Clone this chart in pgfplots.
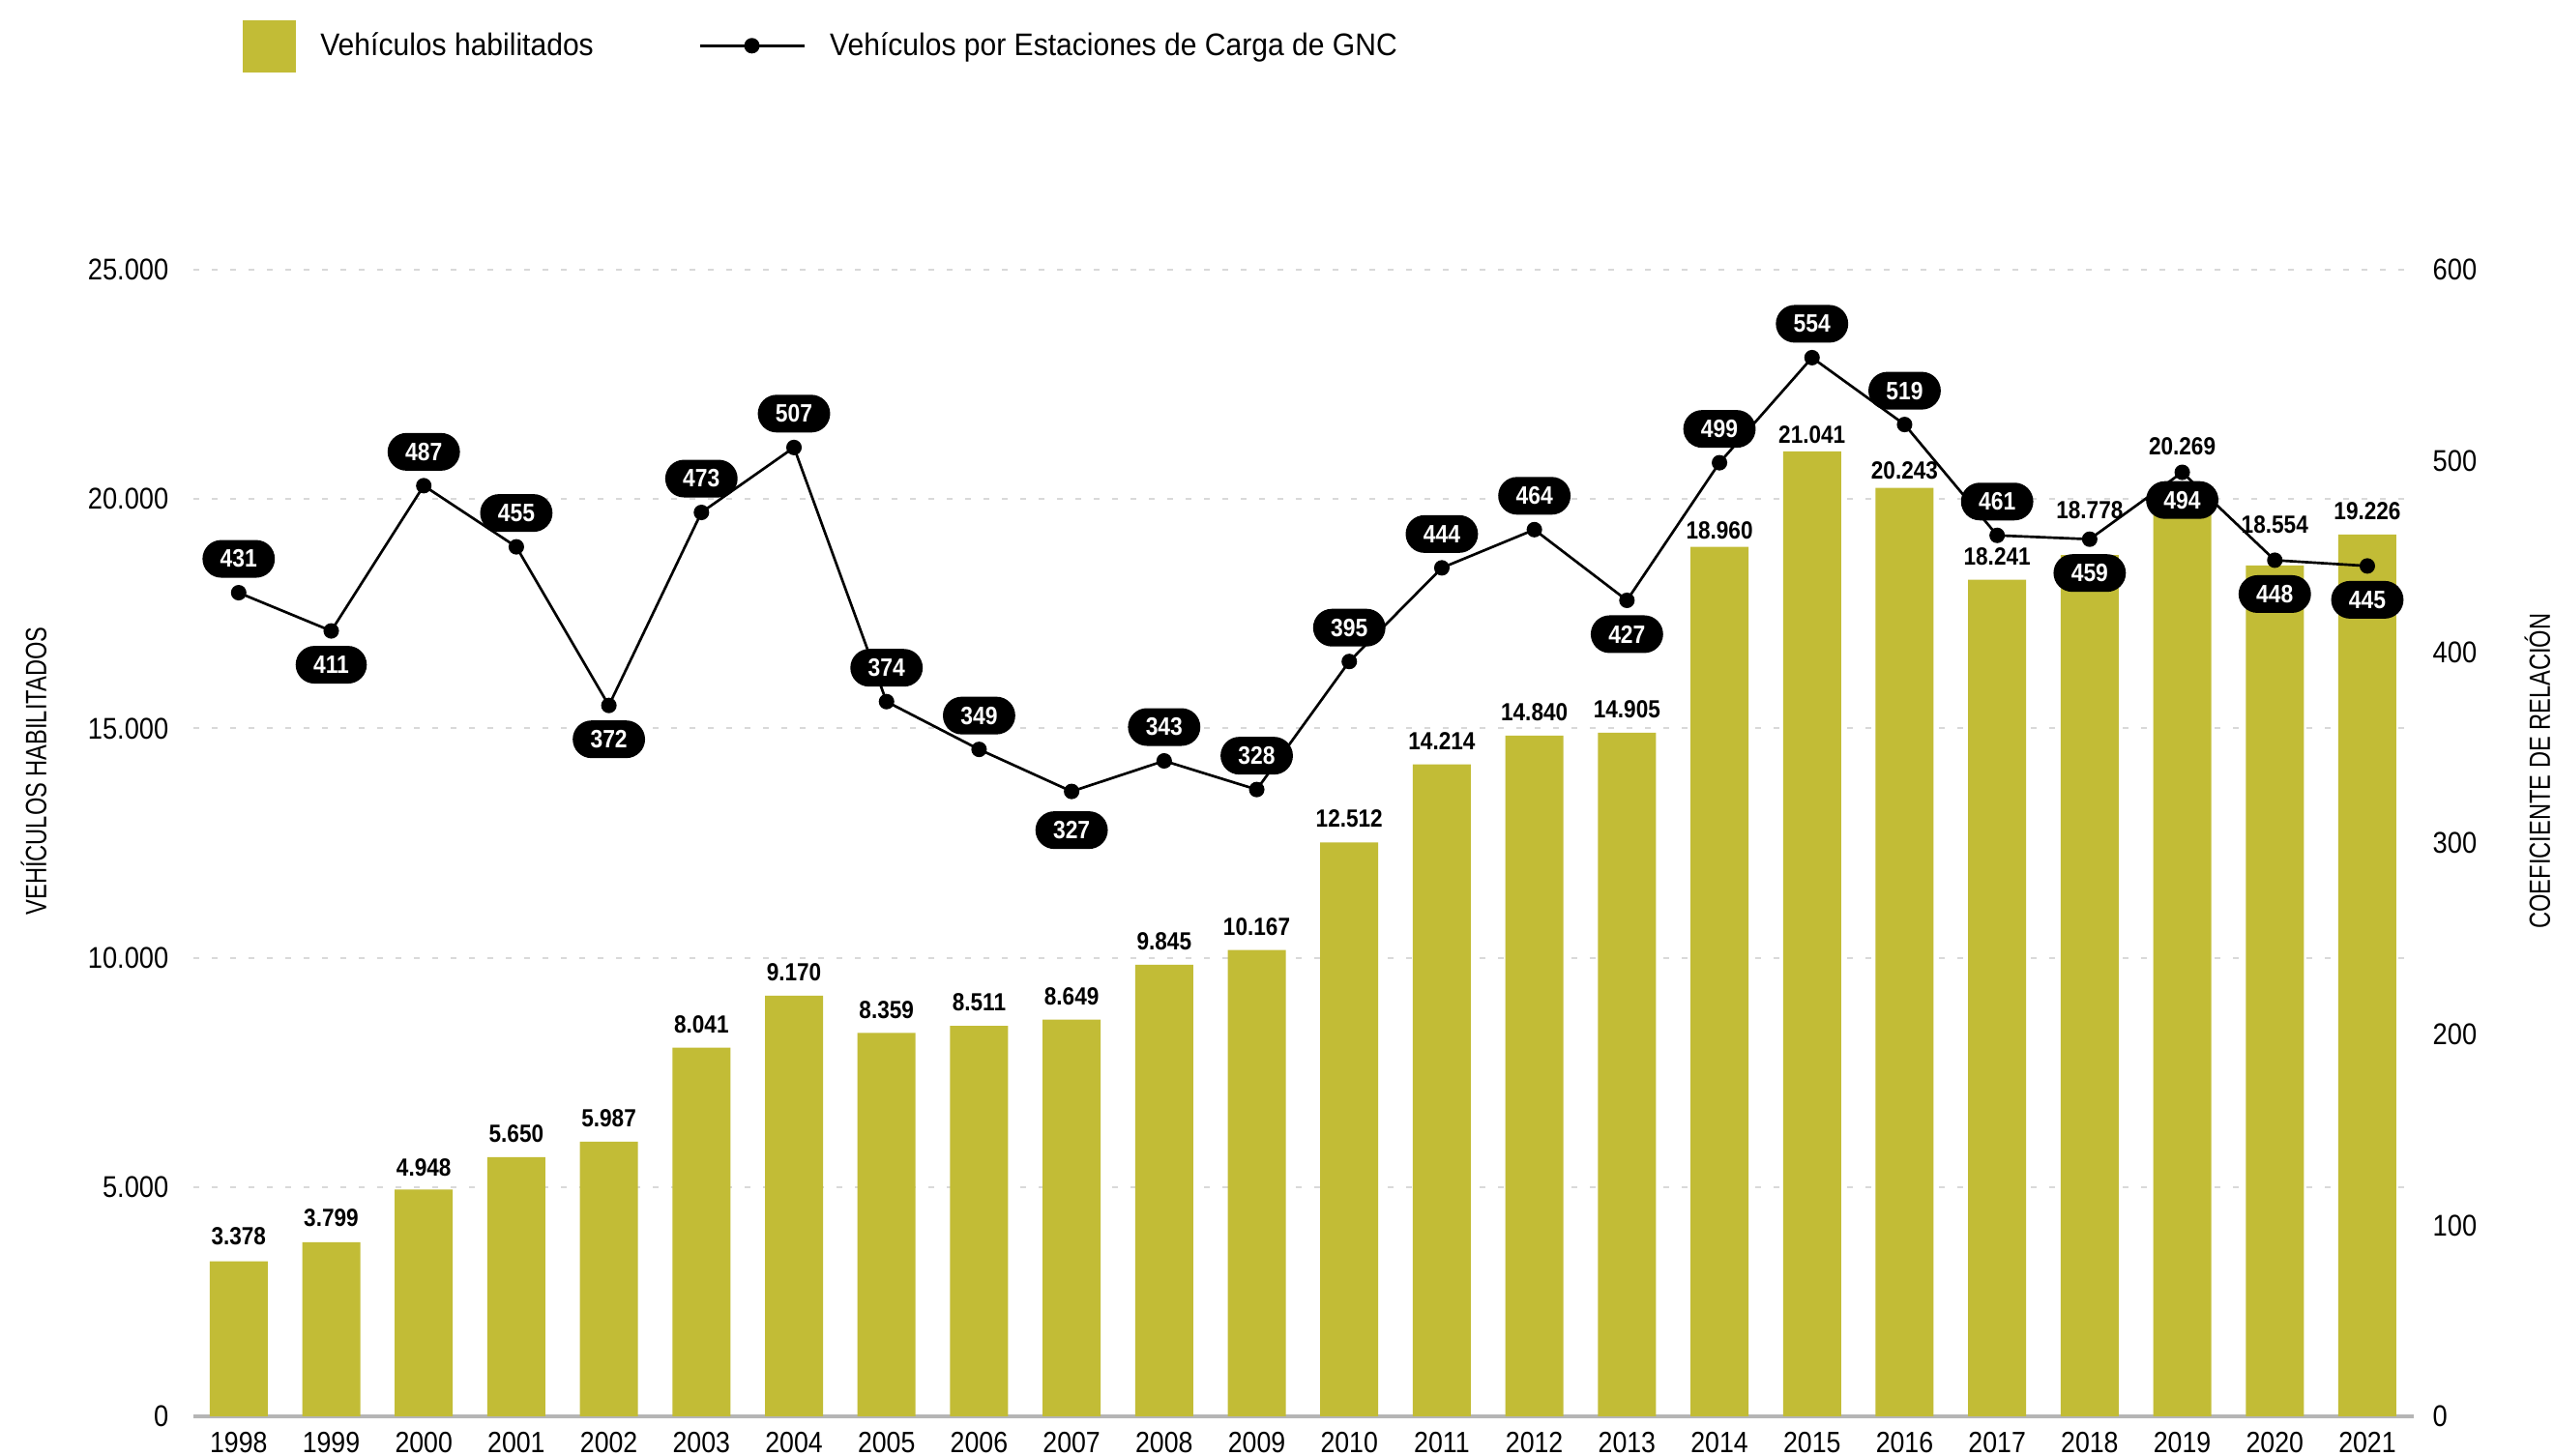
\documentclass[border=0pt]{standalone}
\usepackage{fontspec}
\setmainfont{Liberation Sans}[FakeStretch=0.88]
\newfontfamily\capsfont{Liberation Sans}[FakeStretch=0.78]
\newfontfamily\legfont{Liberation Sans}[FakeStretch=0.93]
\usepackage{pgfplots}
\pgfplotsset{compat=1.18}
\usepackage{pgfplotstable}
\definecolor{barcol}{HTML}{C2BC36}
\definecolor{gridcol}{HTML}{D9D9D9}
\definecolor{axcol}{HTML}{B5B5B5}
\pgfplotsset{/pgf/number format/.cd, assume math mode=true, 1000 sep={.}}

\pgfplotstableread{
x y off
0 3378 5.0
1 3799 4.5
2 4948 4.0
3 5650 4.3
4 5987 4.3
5 8041 4.3
6 9170 4.3
7 8359 4.2
8 8511 4.3
9 8649 4.3
10 9845 4.3
11 10167 4.2
12 12512 4.5
13 14214 4.5
14 14840 4.5
15 14905 4.3
16 18960 2.2
17 21041 2.2
18 20243 2.4
19 18241 4.4
20 18778 11.0
21 20269 9.6
22 18554 9.6
23 19226 4.4
}\bardata

\pgfplotstableread{
x y off
0 431 10.5
1 411 -10.5
2 487 10.5
3 455 10.5
4 372 -10.5
5 473 10.5
6 507 10.5
7 374 10.5
8 349 10.5
9 327 -12
10 343 10.5
11 328 10.5
12 395 10.5
13 444 10.5
14 464 10.5
15 427 -10.5
16 499 10.5
17 554 10.5
18 519 10.5
19 461 10.5
20 459 -10.5
21 494 -8.6
22 448 -10.5
23 445 -10.5
}\linedata

\begin{document}
\begin{tikzpicture}
\useasboundingbox (0,0) rectangle (792.3pt,451.8pt);
\begin{axis}[
  at={(60pt,12.3pt)}, anchor=south west,
  scale only axis, width=688.8pt, height=355.8pt,
  xmin=-0.489, xmax=23.502, ymin=0, ymax=25000,
  axis x line*=bottom, axis y line*=left,
  y axis line style={draw=none},
  x axis line style={draw=axcol, line width=1.3pt, -},
  tick style={draw=none},
  xtick={0,1,...,23},
  xticklabels={1998,1999,2000,2001,2002,2003,2004,2005,2006,2007,2008,2009,2010,2011,2012,2013,2014,2015,2016,2017,2018,2019,2020,2021},
  xticklabel style={anchor=north, inner sep=0pt, yshift=-4.6pt, font=\fontsize{9.1}{10}\selectfont},
  ytick={0,5000,...,25000},
  scaled y ticks=false,
  yticklabel style={anchor=east, inner sep=0pt, xshift=-7.5pt, font=\fontsize{9.3}{10}\selectfont},
  ymajorgrids,
  grid style={draw=gridcol, line width=0.6pt, dash pattern=on 1.8pt off 3.9pt},
  ylabel={VEHÍCULOS HABILITADOS},
  every axis y label/.style={at={(axis description cs:-0.0719,0.5628)}, anchor=center, rotate=90, font=\capsfont\fontsize{9.1}{10}\selectfont},
]
\addplot[ybar, bar width=18pt, fill=barcol, draw=none,
  nodes near coords={\pgfmathprintnumber{\pgfplotspointmeta}},
  visualization depends on={\thisrow{off}\as\boff},
  every node near coord/.append style={anchor=south, inner sep=0pt, yshift=\boff pt, font=\bfseries\fontsize{7.7}{8}\selectfont, text=black},
] table[x=x,y=y] {\bardata};
\end{axis}
\begin{axis}[
  at={(60pt,12.3pt)}, anchor=south west,
  scale only axis, width=688.8pt, height=355.8pt,
  xmin=-0.489, xmax=23.502, ymin=0, ymax=600,
  axis y line*=right, axis x line=none,
  y axis line style={draw=none}, tick style={draw=none},
  ytick={0,100,...,600},
  yticklabel style={anchor=west, inner sep=0pt, xshift=5.7pt, font=\fontsize{9.3}{10}\selectfont},
  ylabel={COEFICIENTE DE RELACIÓN},
  every axis y label/.style={at={(axis description cs:1.0557,0.5628)}, anchor=center, rotate=90, font=\capsfont\fontsize{9.1}{10}\selectfont},
  legend columns=2,
  legend cell align=left,
  legend style={at={(axis description cs:0.02178,1.2184)}, anchor=north west, draw=none, fill=none, inner sep=0pt,
    font=\legfont\fontsize{9.7}{11}\selectfont,
    /tikz/every even column/.append style={column sep=30.5pt},
    /tikz/every odd column/.append style={column sep=5.6pt}},
]
\addlegendimage{legend image code/.code={\fill[barcol] (0pt,-7.8pt) rectangle (16.2pt,8.1pt);}}
\addlegendentry{Vehículos habilitados}
\addlegendimage{legend image code/.code={\draw[black, line width=0.8pt, mark=*, mark size=2pt, mark repeat=2, mark phase=2] plot coordinates {(0pt,0.3pt) (16.2pt,0.3pt) (32.4pt,0.3pt)};}}
\addlegendentry{Vehículos por Estaciones de Carga de GNC}
\addplot[black, line width=0.8pt, mark=*, mark size=2pt, forget plot,
  nodes near coords={\pgfmathprintnumber{\pgfplotspointmeta}},
  visualization depends on={\thisrow{off}\as\loff},
  every node near coord/.append style={anchor=center, yshift=\loff pt, fill=black, text=white,
    font=\bfseries\fontsize{7.8}{8}\selectfont, rounded corners=5.85pt, minimum height=11.7pt,
    inner xsep=5.5pt, inner ysep=0pt},
] table[x=x,y=y] {\linedata};
\end{axis}
\end{tikzpicture}
\end{document}
